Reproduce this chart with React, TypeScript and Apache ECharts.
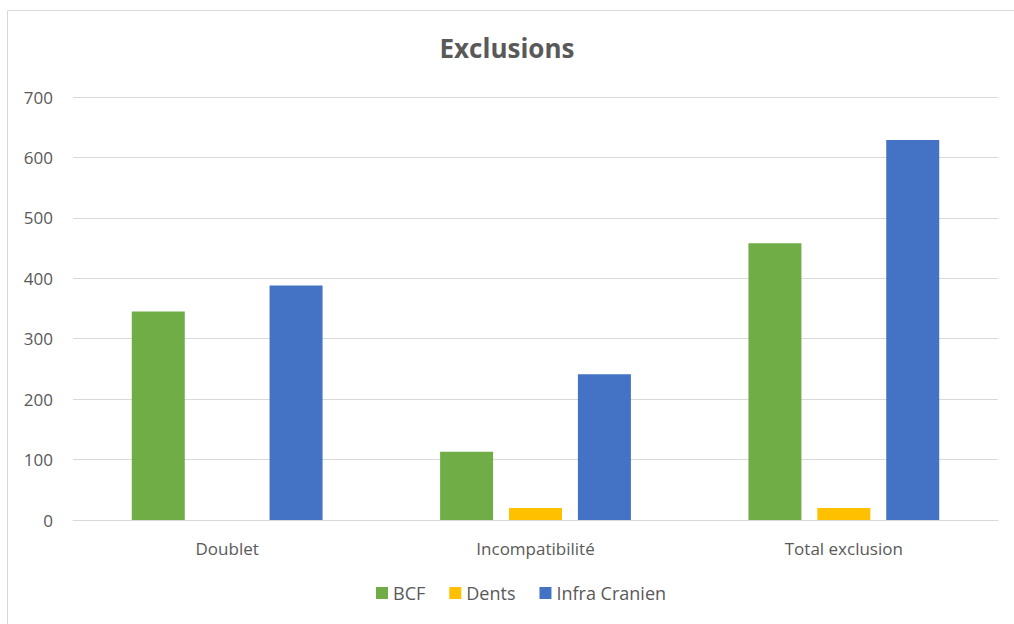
import React, { useEffect, useRef } from "react";
import * as echarts from "echarts";

const categories = ["Doublet", "Incompatibilité", "Total exclusion"];
const bcf = [345, 113, 458];
const dents = [0, 20, 20];
const infraCranien = [388, 241, 629];
const yTicks = [0, 100, 200, 300, 400, 500, 600, 700];

const FONT = "'Open Sans', sans-serif";
const TXT = "#595959";

export default function App() {
  const ref = useRef<HTMLDivElement>(null);
  useEffect(() => {
    if (!ref.current) return;
    const chart = echarts.init(ref.current, undefined, { renderer: "svg" });
    chart.setOption({
      animation: false,
      backgroundColor: "#ffffff",
      title: {
        text: "Exclusions",
        left: "center",
        top: 30,
        textStyle: { fontFamily: FONT, fontSize: 26, fontWeight: "bold", color: TXT },
      },
      graphic: [
        {
          type: "rect",
          shape: { x: 7.5, y: 10.5, width: 1100, height: 700 },
          style: { fill: "none", stroke: "#d9d9d9", lineWidth: 1 },
          silent: true,
        },
      ],
      legend: {
        bottom: 17,
        left: 371,
        itemWidth: 12,
        itemHeight: 12,
        itemGap: 24,
        icon: "rect",
        textStyle: { fontFamily: FONT, fontSize: 18, color: TXT },
        data: ["BCF", "Dents", "Infra Cranien"],
      },
      grid: { left: 73, right: 16, top: 97, bottom: 104 },
      xAxis: {
        type: "category",
        data: categories,
        axisLine: { show: true, lineStyle: { color: "#d9d9d9", width: 1 } },
        axisTick: { show: false },
        axisLabel: { fontFamily: FONT, fontSize: 17, color: TXT, margin: 20 },
      },
      yAxis: {
        type: "value",
        min: yTicks[0],
        max: yTicks[yTicks.length - 1],
        interval: 100,
        axisLine: { show: false },
        axisTick: { show: false },
        splitLine: { lineStyle: { color: "#d9d9d9", width: 1 } },
        axisLabel: { fontFamily: FONT, fontSize: 17, color: TXT, margin: 20 },
      },
      series: [
        { name: "BCF", type: "bar", data: bcf, barWidth: 53, barGap: "30%", itemStyle: { color: "#70AD47" } },
        { name: "Dents", type: "bar", data: dents, barWidth: 53, barGap: "30%", itemStyle: { color: "#FFC000" } },
        { name: "Infra Cranien", type: "bar", data: infraCranien, barWidth: 53, barGap: "30%", itemStyle: { color: "#4472C4" } },
      ],
    });
    return () => chart.dispose();
  }, []);
  return (
    <div
      ref={ref}
      style={{ position: "absolute", left: 0, top: 0, width: 1014, height: 624 }}
    />
  );
}
